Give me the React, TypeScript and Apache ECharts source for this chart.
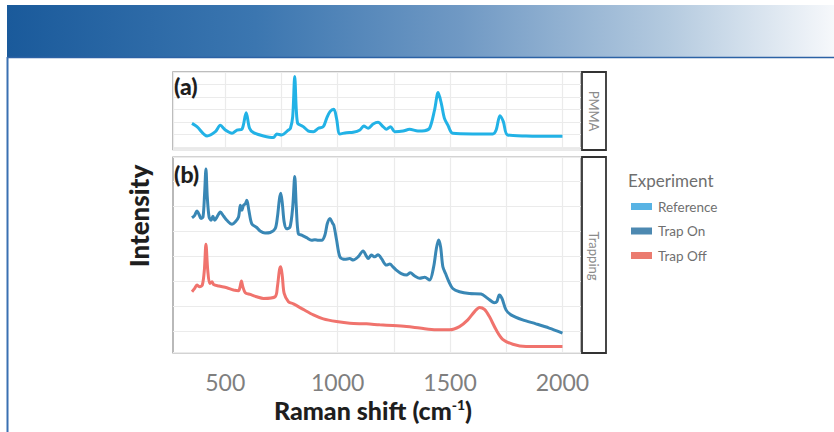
import React, { useEffect, useRef } from "react";
import * as echarts from "echarts";

// Raman shift (cm-1) / intensity (a.u.) pairs
const pmmaX = [352, 374, 419, 456, 478, 500, 530, 552, 574, 593, 608, 626, 670, 714, 729, 751, 781, 790, 800, 809, 816, 822, 833, 847, 870, 892, 914, 936, 951, 966, 983, 995, 1010, 1039, 1069, 1099, 1116, 1136, 1158, 1180, 1202, 1217, 1235, 1254, 1291, 1320, 1357, 1387, 1409, 1431, 1447, 1461, 1475, 1490, 1512, 1601, 1690, 1705, 1722, 1737, 1756, 1838, 2000];
const pmmaY = [1.90, 1.64, 0.90, 1.24, 1.74, 1.37, 1.11, 1.37, 1.43, 2.75, 1.51, 1.16, 0.90, 0.77, 1.06, 0.98, 1.37, 1.51, 2.43, 5.61, 2.96, 1.90, 1.77, 1.64, 1.29, 1.24, 1.51, 1.64, 2.30, 2.83, 3.01, 2.30, 1.06, 1.16, 1.19, 1.37, 1.69, 1.51, 1.85, 1.98, 1.64, 1.43, 1.64, 1.24, 1.29, 1.43, 1.29, 1.32, 1.51, 2.96, 4.34, 3.49, 2.30, 1.77, 1.11, 1.06, 1.06, 1.37, 2.51, 2.04, 0.98, 0.90, 0.87];

const trapOnX = [352, 364, 374, 385, 392, 401, 408, 414, 420, 428, 437, 445, 453, 463, 478, 493, 507, 530, 544, 559, 567, 574, 581, 589, 596, 605, 618, 640, 655, 677, 700, 722, 732, 741, 747, 754, 762, 773, 788, 800, 809, 816, 825, 840, 862, 884, 899, 914, 929, 943, 954, 966, 977, 983, 995, 1010, 1032, 1054, 1069, 1091, 1113, 1128, 1136, 1150, 1165, 1180, 1195, 1217, 1232, 1246, 1261, 1283, 1306, 1323, 1343, 1365, 1387, 1409, 1427, 1439, 1449, 1458, 1468, 1480, 1495, 1512, 1542, 1586, 1638, 1668, 1697, 1708, 1719, 1731, 1749, 1771, 1823, 1882, 1941, 2000];
const trapOnY = [5.55, 5.65, 5.82, 5.65, 5.52, 5.58, 6.51, 7.51, 6.38, 5.58, 5.45, 5.61, 5.45, 5.58, 5.78, 5.61, 5.45, 5.29, 5.38, 5.58, 6.05, 5.85, 6.05, 6.11, 6.25, 5.85, 5.31, 5.16, 5.02, 4.94, 4.96, 5.11, 5.58, 6.31, 6.54, 6.11, 5.38, 5.11, 5.18, 5.98, 7.21, 5.98, 4.91, 4.85, 4.75, 4.65, 4.67, 4.65, 4.65, 4.85, 5.32, 5.52, 5.34, 5.25, 4.67, 3.98, 3.88, 3.91, 3.85, 3.98, 4.22, 4.01, 3.91, 4.05, 3.98, 4.07, 3.91, 3.65, 3.69, 3.58, 3.45, 3.31, 3.25, 3.34, 3.21, 3.12, 3.16, 3.05, 3.58, 4.31, 4.66, 4.38, 3.58, 3.31, 2.98, 2.71, 2.58, 2.51, 2.49, 2.31, 2.14, 2.18, 2.45, 2.31, 1.85, 1.65, 1.45, 1.29, 1.12, 0.92];

const trapOffX = [352, 364, 374, 386, 398, 407, 414, 422, 431, 441, 448, 471, 507, 537, 559, 566, 572, 578, 589, 611, 640, 670, 722, 732, 741, 747, 754, 762, 781, 803, 847, 892, 936, 995, 1054, 1128, 1187, 1246, 1306, 1365, 1438, 1498, 1542, 1579, 1609, 1631, 1653, 1675, 1705, 1734, 1779, 1838, 1912, 2000];
const trapOffY = [2.58, 2.71, 2.85, 2.78, 2.85, 3.45, 4.49, 3.45, 2.91, 2.98, 2.87, 2.81, 2.74, 2.65, 2.62, 2.78, 3.01, 2.78, 2.54, 2.47, 2.38, 2.31, 2.38, 2.78, 3.45, 3.58, 3.18, 2.51, 2.18, 2.09, 1.87, 1.65, 1.49, 1.38, 1.31, 1.29, 1.25, 1.22, 1.18, 1.12, 1.05, 1.05, 1.18, 1.45, 1.78, 1.95, 1.87, 1.58, 1.05, 0.67, 0.47, 0.38, 0.38, 0.38];

const seriesNames = ["Reference", "Trap On", "Trap Off"];
const lineColors = ["#22b2e6", "#3987b5", "#f0736d"];
const legendColors = ["#58b3e4", "#4d89b1", "#eb7b6f"];
const xTickLabels = [500, 1000, 1500, 2000];
const xGridB = [1000, 1250, 1500, 1750, 2000];
const panelLabels = ["(a)", "(b)"];
const stripLabels = ["PMMA", "Trapping"];

const FONT = "Lato, 'Open Sans', sans-serif";

function zip(xs: number[], ys: number[]) {
  return xs.map((x, i) => [x, ys[i]]);
}

export default function App() {
  const ref = useRef<HTMLDivElement>(null);
  useEffect(() => {
    if (!ref.current) return;
    const chart = echarts.init(ref.current, null, { renderer: "svg" });
    const gridLine = { show: true, lineStyle: { color: "#ebebeb", width: 1.2 } };
    const xBase = {
      type: "value" as const,
      min: 267.5,
      max: 2082.5,
      minInterval: 250,
      maxInterval: 250,
      splitNumber: 7,
      axisLine: { show: false },
      axisTick: { show: false },
    };
    const option: any = {
      animation: false,
      backgroundColor: "#ffffff",
      grid: [
        { left: 173, top: 72, width: 408, height: 77.5, show: true, borderColor: "#a8a8a8", borderWidth: 1.6, backgroundColor: "transparent" },
        { left: 173, top: 157.3, width: 408, height: 195.4, show: true, borderColor: "#a8a8a8", borderWidth: 1.6, backgroundColor: "transparent" },
      ],
      xAxis: [
        { ...xBase, gridIndex: 0, axisLabel: { show: false }, splitLine: gridLine },
        {
          ...xBase,
          gridIndex: 1,
          splitLine: { show: false },
          axisLabel: {
            show: true,
            showMinLabel: false,
            showMaxLabel: false,
            color: "#7f7f7f",
            fontSize: 23,
            fontFamily: FONT,
            margin: 18,
            formatter: (v: number) => (xTickLabels.includes(v) ? String(v) : ""),
          },
        },
      ],
      yAxis: [
        { type: "value", gridIndex: 0, min: -0.175, max: 5.976, minInterval: 1, maxInterval: 1, splitNumber: 6, axisLine: { show: false }, axisTick: { show: false }, axisLabel: { show: false }, splitLine: gridLine },
        { type: "value", gridIndex: 1, min: 0.13, max: 7.98, minInterval: 1, maxInterval: 1, splitNumber: 8, axisLine: { show: false }, axisTick: { show: false }, axisLabel: { show: false }, splitLine: gridLine },
      ],
      legend: {
        orient: "vertical",
        left: 631,
        top: 199.5,
        padding: 0,
        itemGap: 10.5,
        itemWidth: 21,
        itemHeight: 7,
        icon: "rect",
        selectedMode: false,
        textStyle: { color: "#6f6f6f", fontSize: 13.5, fontFamily: FONT, lineHeight: 14, padding: [0, 0, 0, 1] },
        data: seriesNames.map((n, i) => ({ name: n, itemStyle: { color: legendColors[i], borderWidth: 0 } })),
      },
      series: [
        {
          name: seriesNames[0], type: "line", xAxisIndex: 0, yAxisIndex: 0, data: zip(pmmaX, pmmaY),
          showSymbol: false, smooth: 0.3, z: 3, lineStyle: { color: lineColors[0], width: 3 }, itemStyle: { color: lineColors[0] },
        },
        {
          name: seriesNames[1], type: "line", xAxisIndex: 1, yAxisIndex: 1, data: zip(trapOnX, trapOnY),
          showSymbol: false, smooth: 0.3, z: 3, lineStyle: { color: lineColors[1], width: 3 }, itemStyle: { color: lineColors[1] },
          markLine: {
            silent: true, z: 1, symbol: "none", label: { show: false },
            lineStyle: { color: "#ebebeb", width: 1.2, type: "solid" },
            emphasis: { disabled: true },
            data: xGridB.map((v) => ({ xAxis: v })),
          },
        },
        {
          name: seriesNames[2], type: "line", xAxisIndex: 1, yAxisIndex: 1, data: zip(trapOffX, trapOffY),
          showSymbol: false, smooth: 0.3, z: 3, lineStyle: { color: lineColors[2], width: 3 }, itemStyle: { color: lineColors[2] },
        },
      ],
      graphic: [
        {
          type: "rect", z: 10, shape: { x: 7, y: 5, width: 827, height: 52 },
          style: {
            fill: new echarts.graphic.LinearGradient(0, 0, 1, 0, [
              { offset: 0, color: "#1a5a9b" },
              { offset: 0.3, color: "#3b76b0" },
              { offset: 0.55, color: "#7099c4" },
              { offset: 0.8, color: "#b4cadf" },
              { offset: 1, color: "#f6f8fb" },
            ]),
          },
        },
        { type: "line", z: 10, shape: { x1: 7, y1: 57.5, x2: 834, y2: 57.5 }, style: { stroke: "#2c62a5", lineWidth: 1.5 } },
        { type: "line", z: 10, shape: { x1: 7.5, y1: 57, x2: 7.5, y2: 432 }, style: { stroke: "#3a70b2", lineWidth: 2 } },
        { type: "rect", z: 10, shape: { x: 582, y: 72, width: 24, height: 78 }, style: { fill: "#ffffff", stroke: "#333333", lineWidth: 1.8 } },
        { type: "rect", z: 10, shape: { x: 582, y: 157, width: 24, height: 196 }, style: { fill: "#ffffff", stroke: "#333333", lineWidth: 1.8 } },
        { type: "text", z: 11, x: 594, y: 111, rotation: -Math.PI / 2, style: { text: stripLabels[0], fill: "#8a8a8a", fontSize: 13, fontFamily: FONT, textAlign: "center", textVerticalAlign: "middle" } },
        { type: "text", z: 11, x: 594, y: 256, rotation: -Math.PI / 2, style: { text: stripLabels[1], fill: "#8a8a8a", fontSize: 13, fontFamily: FONT, textAlign: "center", textVerticalAlign: "middle" } },
        { type: "text", z: 11, x: 174, y: 86, style: { text: panelLabels[0], fill: "#1e1e1e", fontSize: 23, fontWeight: 900, fontFamily: FONT, textAlign: "left", textVerticalAlign: "middle" } },
        { type: "text", z: 11, x: 174, y: 174, style: { text: panelLabels[1], fill: "#1e1e1e", fontSize: 23, fontWeight: 900, fontFamily: FONT, textAlign: "left", textVerticalAlign: "middle" } },
        { type: "text", z: 11, x: 139, y: 216, rotation: Math.PI / 2, style: { text: "Intensity", fill: "#1e1e1e", fontSize: 26, fontWeight: 900, fontFamily: FONT, textAlign: "center", textVerticalAlign: "middle" } },
        {
          type: "text", z: 11, x: 373, y: 410,
          style: {
            text: "{b|Raman shift (cm}{s|-1}{b|)}",
            fill: "#1e1e1e", textAlign: "center", textVerticalAlign: "middle",
            rich: {
              b: { fontSize: 25, fontWeight: 900, fontFamily: FONT, fill: "#1e1e1e", verticalAlign: "bottom" },
              s: { fontSize: 14, fontWeight: 900, fontFamily: FONT, fill: "#1e1e1e", verticalAlign: "bottom", padding: [0, 0, 11, 0] },
            },
          },
        },
        { type: "text", z: 11, x: 628, y: 180, style: { text: "Experiment", fill: "#6f6f6f", fontSize: 17, fontFamily: FONT, textAlign: "left", textVerticalAlign: "middle" } },
      ],
    };
    chart.setOption(option);
    return () => chart.dispose();
  }, []);
  return <div ref={ref} style={{ position: "absolute", left: 0, top: 0, width: 834, height: 432 }} />;
}
